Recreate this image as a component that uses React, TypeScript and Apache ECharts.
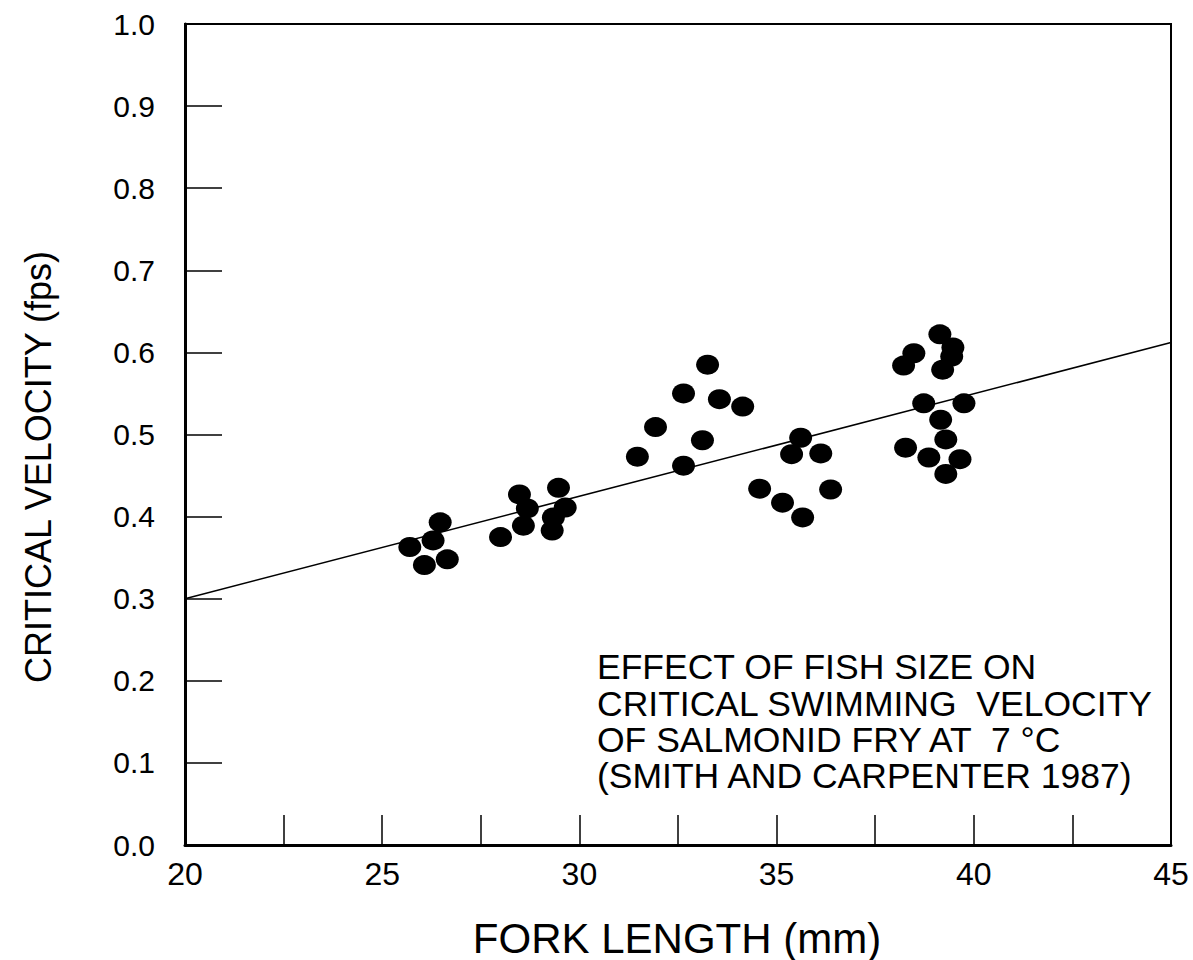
import React, { useEffect, useRef } from "react";
import * as echarts from "echarts";

const forkLength = [
  25.7, 26.07, 26.29, 26.47, 26.65,
  28.0, 28.48, 28.68, 28.58, 29.31, 29.34, 29.47, 29.64,
  31.47, 31.93, 32.64, 32.64, 33.12, 33.25, 33.55, 34.14,
  34.57, 35.15, 35.38, 35.61, 35.66, 36.12, 36.37,
  38.22, 38.48, 38.27, 38.73, 38.86, 39.14, 39.16, 39.21, 39.29, 39.29, 39.44, 39.47, 39.65, 39.75,
];
const criticalVelocity = [
  0.363, 0.341, 0.371, 0.393, 0.348,
  0.375, 0.427, 0.41, 0.389, 0.383, 0.399, 0.435, 0.411,
  0.473, 0.509, 0.55, 0.462, 0.493, 0.585, 0.543, 0.534,
  0.434, 0.417, 0.476, 0.496, 0.399, 0.477, 0.433,
  0.584, 0.599, 0.484, 0.538, 0.472, 0.622, 0.518, 0.579, 0.494, 0.452, 0.595, 0.606, 0.47, 0.538,
];
const fitX = [20, 45];
const fitY = [0.3, 0.612];
const noteLines = [
  "EFFECT OF FISH SIZE ON",
  "CRITICAL SWIMMING  VELOCITY",
  "OF SALMONID FRY AT  7 °C",
  "(SMITH AND CARPENTER 1987)",
];
const xTitle = "FORK LENGTH (mm)";
const yTitle = "CRITICAL VELOCITY (fps)";

const FONT = "'Liberation Sans', Arial, sans-serif";

export default function App() {
  const ref = useRef<HTMLDivElement>(null);
  useEffect(() => {
    if (!ref.current) return;
    const chart = echarts.init(ref.current, null, { renderer: "svg" });
    const pts = forkLength.map((x, i) => [x, criticalVelocity[i]]);
    const fit = fitX.map((x, i) => [x, fitY[i]]);
    const noteY = [667, 704, 740, 776];
    chart.setOption({
      animation: false,
      backgroundColor: "#fff",
      grid: {
        left: 185,
        top: 24,
        width: 986,
        height: 821,
        show: true,
        borderColor: "#000",
        borderWidth: 2,
        backgroundColor: "transparent",
      },
      xAxis: {
        type: "value",
        min: 20,
        max: 45,
        interval: 2.5,
        axisLine: { show: true, onZero: false, lineStyle: { color: "#000", width: 3 } },
        axisTick: { show: true, inside: true, length: 30, lineStyle: { color: "#000", width: 1.5 } },
        splitLine: { show: false },
        axisLabel: {
          color: "#000",
          fontSize: 32,
          fontFamily: FONT,
          margin: 13,
          formatter: (v: number) => (Math.abs(v % 5) < 1e-6 ? String(v) : ""),
        },
      },
      yAxis: {
        type: "value",
        min: 0,
        max: 1,
        interval: 0.1,
        axisLine: { show: true, onZero: false, lineStyle: { color: "#000", width: 3 } },
        axisTick: { show: true, inside: true, length: 37, lineStyle: { color: "#000", width: 1.5 } },
        splitLine: { show: false },
        axisLabel: {
          color: "#000",
          fontSize: 30,
          fontFamily: FONT,
          margin: 30,
          formatter: (v: number) => v.toFixed(1),
        },
      },
      series: [
        {
          type: "line",
          data: fit,
          symbol: "none",
          lineStyle: { color: "#000", width: 1.6 },
          silent: true,
        },
        {
          type: "scatter",
          data: pts,
          symbol: "circle",
          symbolSize: [23, 20],
          itemStyle: { color: "#000", opacity: 1 },
        },
      ],
      graphic: [
        {
          type: "text",
          x: 677,
          y: 938,
          style: {
            text: xTitle,
            fontSize: 42,
            fontFamily: FONT,
            fill: "#000",
            align: "center",
            verticalAlign: "middle",
          },
        },
        {
          type: "text",
          x: 38,
          y: 467,
          rotation: Math.PI / 2,
          style: {
            text: yTitle,
            fontSize: 36,
            fontFamily: FONT,
            fill: "#000",
            align: "center",
            verticalAlign: "middle",
          },
        },
        ...noteLines.map((t, i) => ({
          type: "text",
          x: 597,
          y: noteY[i],
          style: {
            text: t,
            fontSize: 35.5,
            fontFamily: FONT,
            fill: "#000",
            align: "left",
            verticalAlign: "middle",
          },
        })),
      ],
    });
    return () => chart.dispose();
  }, []);
  return (
    <div
      ref={ref}
      style={{ position: "fixed", left: 0, top: 0, width: 1193, height: 960, background: "#fff" }}
    />
  );
}
